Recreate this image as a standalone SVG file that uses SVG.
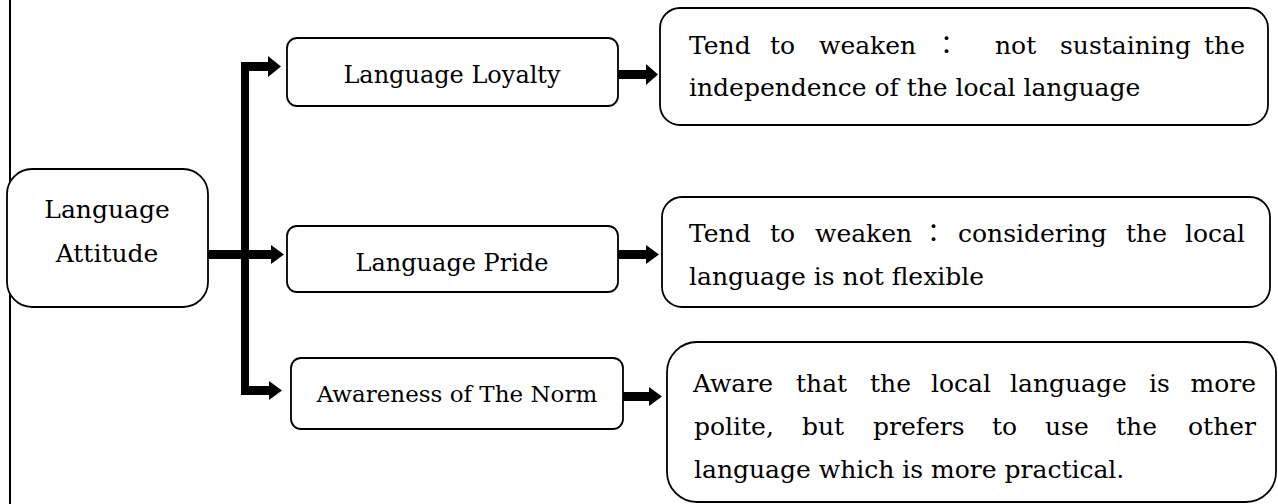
<svg xmlns="http://www.w3.org/2000/svg" width="1278" height="504" viewBox="0 0 1278 504">
<style>
.box{fill:#fff;stroke:#000;stroke-width:1.8}
.t{font-family:"DejaVu Serif","Noto Sans CJK JP",serif;fill:#000}
.c{text-anchor:middle}
.conn{fill:#000;stroke:none}
</style>
<line x1="10" y1="0" x2="10" y2="504" stroke="#000" stroke-width="2"/>
<g id="connectors" class="conn">
  <rect x="241" y="62" width="8" height="333"/>
  <rect x="241" y="62" width="28" height="9"/>
  <polygon points="268,56 281,66.5 268,77"/>
  <rect x="208" y="250" width="64" height="9"/>
  <polygon points="271,245 284,254.5 271,264"/>
  <rect x="241" y="386" width="29" height="9"/>
  <polygon points="269,381 282,390.5 269,400"/>
  <rect x="618" y="70" width="29" height="9"/>
  <polygon points="646,64 658,74.5 646,85"/>
  <rect x="618" y="250" width="29" height="9"/>
  <polygon points="646,245 659,254.5 646,264"/>
  <rect x="623" y="392" width="27" height="9"/>
  <polygon points="649,387 662,396.5 649,406"/>
</g>
<g id="attitude">
  <rect class="box" x="7" y="169" width="201" height="138" rx="25"/>
  <text class="t c" font-size="25" x="107" y="218">Language</text>
  <text class="t c" font-size="25" x="107" y="262">Attitude</text>
</g>
<g id="loyalty">
  <rect class="box" x="287" y="38" width="331" height="68" rx="10"/>
  <text class="t c" font-size="24" x="452" y="83">Language Loyalty</text>
</g>
<g id="pride">
  <rect class="box" x="287" y="226" width="331" height="66" rx="10"/>
  <text class="t c" font-size="24" x="452" y="271">Language Pride</text>
</g>
<g id="norm">
  <rect class="box" x="291" y="358" width="332" height="71" rx="10"/>
  <text class="t c" font-size="23" x="457" y="402">Awareness of The Norm</text>
</g>
<g id="tend1">
  <rect class="box" x="660" y="8" width="608" height="117" rx="20"/>
  <text class="t" font-size="25" y="54"><tspan x="689">Tend</tspan><tspan x="770">to</tspan><tspan x="819">weaken</tspan><tspan x="934">：</tspan><tspan x="995">not</tspan><tspan x="1060">sustaining</tspan><tspan x="1245" text-anchor="end">the</tspan></text>
  <text class="t" font-size="25" x="689" y="96">independence of the local language</text>
</g>
<g id="tend2">
  <rect class="box" x="662" y="197" width="608" height="110" rx="20"/>
  <text class="t" font-size="25" y="242"><tspan x="689">Tend</tspan><tspan x="770">to</tspan><tspan x="815">weaken</tspan><tspan x="921">：</tspan><tspan x="958">considering</tspan><tspan x="1126">the</tspan><tspan x="1245" text-anchor="end">local</tspan></text>
  <text class="t" font-size="25" x="689" y="285">language is not flexible</text>
</g>
<g id="aware">
  <rect class="box" x="667" y="342" width="609" height="160" rx="30"/>
  <text class="t" font-size="25" y="392"><tspan x="693">Aware</tspan><tspan x="796">that</tspan><tspan x="870">the</tspan><tspan x="931">local</tspan><tspan x="1010">language</tspan><tspan x="1149">is</tspan><tspan x="1256" text-anchor="end">more</tspan></text>
  <text class="t" font-size="25" y="435"><tspan x="694">polite,</tspan><tspan x="802">but</tspan><tspan x="873">prefers</tspan><tspan x="992">to</tspan><tspan x="1045">use</tspan><tspan x="1116">the</tspan><tspan x="1256" text-anchor="end">other</tspan></text>
  <text class="t" font-size="25" x="694" y="478">language which is more practical.</text>
</g>
</svg>
